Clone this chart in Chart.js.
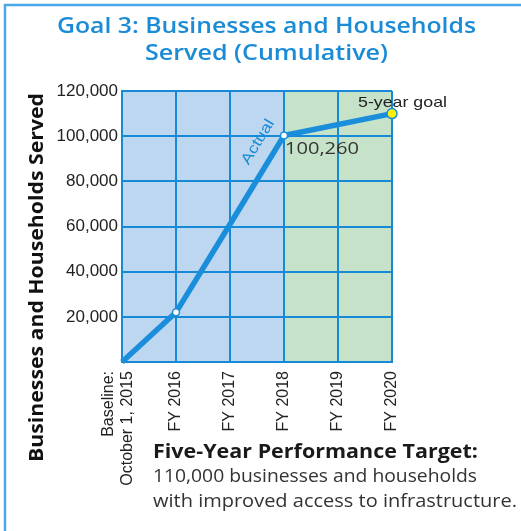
<!DOCTYPE html>
<html>
<head>
<meta charset="utf-8">
<script src="https://cdn.jsdelivr.net/npm/chart.js@4"></script>
<style>
  html, body { margin: 0; padding: 0; background: #fff; }
</style>
</head>
<body>
<canvas id="chart" width="521" height="531"></canvas>
<script>
// --- data ---
const xLabels = [['Baseline:', 'October 1, 2015'], 'FY 2016', 'FY 2017', 'FY 2018', 'FY 2019', 'FY 2020'];
const served = [0, 22000, 61000, 100260, null, 110000];
const yTicks = [0, 20000, 40000, 60000, 80000, 100000, 120000];
const actualEnd = 3; // FY 2018 is the last actual year
const titleLines = ['Goal 3: Businesses and Households', 'Served (Cumulative)'];
const yTitle = 'Businesses and Households Served';
const targetLines = ['Five-Year Performance Target:', '110,000 businesses and households', 'with improved access to infrastructure.'];
const actualLabel = 'Actual';
const lastActualLabel = '100,260';
const goalLabel = '5-year goal';

// --- styles ---
const BLUE = '#1a8bd6';
const GRID = '#168ad6';
const LINE = '#1a8edb';
const FILL_ACT = '#bcd7ef';
const FILL_PLAN = '#c6e3ca';

// draw text squeezed/stretched horizontally to a measured width
function fitText(ctx, text, x, y, width) {
    const w = ctx.measureText(text).width;
    ctx.save();
    ctx.translate(x, y);
    ctx.scale(width / w, 1);
    ctx.textAlign = 'left';
    ctx.fillText(text, 0, 0);
    ctx.restore();
}

const decor = {
    id: 'decor',
    beforeDraw(chart) {
        const { ctx, chartArea: a, scales: { x } } = chart;
        ctx.save();
        ctx.fillStyle = '#fff';
        ctx.fillRect(0, 0, chart.width, chart.height);
        const x0 = x.getPixelForValue(0);
        const xa = x.getPixelForValue(actualEnd);
        const x1 = x.getPixelForValue(xLabels.length - 1);
        ctx.fillStyle = FILL_ACT;
        ctx.fillRect(x0, a.top, xa - x0, a.bottom - a.top);
        ctx.fillStyle = FILL_PLAN;
        ctx.fillRect(xa, a.top, x1 - xa, a.bottom - a.top);
        // frame (left + top only)
        ctx.strokeStyle = '#4aa8e8';
        ctx.lineWidth = 2.5;
        ctx.beginPath();
        ctx.moveTo(5, chart.height);
        ctx.lineTo(5, 5);
        ctx.lineTo(chart.width, 5);
        ctx.stroke();
        ctx.restore();
    },
    afterDraw(chart) {
        const { ctx, scales: { x } } = chart;
        ctx.save();
        ctx.textBaseline = 'alphabetic';

        // title
        ctx.fillStyle = BLUE;
        ctx.font = '600 21px "Open Sans"';
        fitText(ctx, titleLines[0], 57, 33, 419);
        fitText(ctx, titleLines[1], 145, 60, 243);

        // y axis title
        ctx.fillStyle = '#111';
        ctx.font = 'bold 20px "Open Sans"';
        ctx.save();
        ctx.translate(43, 462);
        ctx.rotate(-Math.PI / 2);
        fitText(ctx, yTitle, 0, 0, 369);
        ctx.restore();

        // x tick labels, vertical
        ctx.fillStyle = '#222';
        ctx.font = '16px "Liberation Sans"';
        ctx.textBaseline = 'middle';
        ctx.textAlign = 'right';
        xLabels.forEach((lab, i) => {
            const lines = Array.isArray(lab) ? lab : [lab];
            const px = x.getPixelForValue(i);
            lines.forEach((line, j) => {
                const off = lines.length > 1 ? (j - (lines.length - 1) / 2) * 19 - 3.5 : 0;
                ctx.save();
                ctx.translate(px + off, 371);
                ctx.rotate(-Math.PI / 2);
                ctx.fillText(line, 0, 0);
                ctx.restore();
            });
        });

        // "Actual" along the line
        const pts = chart.getDatasetMeta(0).data;
        const ang = Math.atan2(pts[actualEnd].y - pts[1].y, pts[actualEnd].x - pts[1].x);
        ctx.fillStyle = BLUE;
        ctx.font = '15px "Liberation Sans"';
        ctx.save();
        ctx.translate(258, 142);
        ctx.rotate(ang);
        const aw = ctx.measureText(actualLabel).width;
        ctx.scale(50 / aw, 1);
        ctx.textAlign = 'center';
        ctx.fillText(actualLabel, 0, 0);
        ctx.restore();

        ctx.textBaseline = 'alphabetic';
        ctx.fillStyle = '#333';
        ctx.font = '17px "Open Sans"';
        fitText(ctx, lastActualLabel, 285, 154, 74);

        ctx.fillStyle = '#222';
        ctx.font = '15px "Liberation Sans"';
        fitText(ctx, goalLabel, 358, 107, 89);

        // performance target
        ctx.fillStyle = '#1a1a1a';
        ctx.font = 'bold 19px "Open Sans"';
        fitText(ctx, targetLines[0], 153, 458, 325);
        ctx.fillStyle = '#333';
        ctx.font = '18px "Open Sans"';
        fitText(ctx, targetLines[1], 153, 482, 324);
        fitText(ctx, targetLines[2], 153, 507, 364);

        ctx.restore();
    }
};

new Chart(document.getElementById('chart'), {
    type: 'line',
    data: {
        labels: xLabels,
        datasets: [{
            data: served,
            spanGaps: true,
            clip: false,
            borderColor: LINE,
            borderWidth: 5.5,
            tension: 0,
            pointRadius: [0, 3.5, 0, 3.5, 0, 5],
            pointBorderWidth: 1.5,
            pointBorderColor: LINE,
            pointBackgroundColor: ['#fff', '#fff', '#fff', '#fff', '#fff', '#fff000'],
        }]
    },
    options: {
        responsive: false,
        devicePixelRatio: 1,
        animation: false,
        layout: { padding: { top: 91, right: 129, bottom: 0, left: 0 } },
        plugins: { legend: { display: false }, tooltip: { enabled: false }, title: { display: false } },
        scales: {
            x: {
                type: 'category',
                offset: false,
                afterFit: s => { s.height = 169; },
                grid: { color: GRID, lineWidth: 2, drawTicks: false },
                border: { color: GRID, width: 2 },
                ticks: { display: false, autoSkip: false }
            },
            y: {
                min: 0,
                max: 120000,
                afterBuildTicks: s => { s.ticks = yTicks.map(v => ({ value: v })); },
                afterFit: s => { s.width = 122; },
                grid: { color: GRID, lineWidth: 2, drawTicks: false },
                border: { color: GRID, width: 2 },
                ticks: {
                    padding: 4,
                    color: '#222',
                    font: { family: 'Liberation Sans', size: 17 },
                    callback: v => v === 0 ? '' : v.toLocaleString('en-US')
                }
            }
        }
    },
    plugins: [decor]
});
</script>
</body>
</html>
